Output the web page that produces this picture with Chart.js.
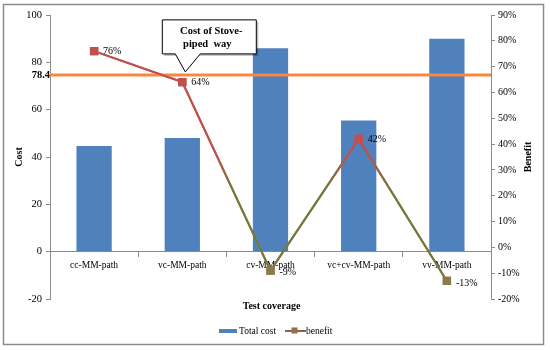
<!DOCTYPE html>
<html>
<head>
<meta charset="utf-8">
<script src="https://cdn.jsdelivr.net/npm/chart.js@4/dist/chart.umd.min.js"></script>
<style>
html, body { margin: 0; padding: 0; background: #fff; }
#wrap { width: 550px; height: 350px; position: relative; }
</style>
</head>
<body>
<div id="wrap"><canvas id="plot" width="550" height="350"></canvas></div>
<script>
const categories = ['cc-MM-path', 'vc-MM-path', 'cv-MM-path', 'vc+cv-MM-path', 'vv-MM-path'];
const totalCost = [44.7, 48.0, 86.0, 55.4, 90.0];
const benefit = [76, 64, -9, 42, -13];
const stovePipedLabel = '78.4';
const stovePipedLevel = 74.7;
const costTicks = [-20, 0, 20, 40, 60, 80, 100];
const benefitTicks = [-20, -10, 0, 10, 20, 30, 40, 50, 60, 70, 80, 90];

const serif = '"Liberation Serif", "Times New Roman", serif';
const red = '#c0504d';
const olive = '#75793c';
const brown = '#8b7b4b';
const blue = '#4f81bd';
const orange = '#f7883f';

function lineGradient(ctx)
{
	const chart = ctx.chart;
	const area = chart.chartArea;
	if (!area) return red;
	const y = chart.scales.y1;
	const top = y.getPixelForValue(35);
	const bottom = y.getPixelForValue(24);
	const g = chart.ctx.createLinearGradient(0, top, 0, bottom);
	g.addColorStop(0, red);
	g.addColorStop(1, olive);
	return g;
}

const decor =
{
	id: 'decor',
	beforeDraw(chart)
	{
		const c = chart.ctx;
		c.save();
		c.strokeStyle = '#8c8c8c';
		c.lineWidth = 1.5;
		c.strokeRect(3.5, 4.5, 540, 340);
		c.restore();
	},
	afterDatasetsDraw(chart)
	{
		const c = chart.ctx;
		const area = chart.chartArea;
		const x = chart.scales.x;
		const y = chart.scales.y;

		// cost of stove-piped way
		const ly = y.getPixelForValue(stovePipedLevel);
		c.save();
		c.strokeStyle = orange;
		c.lineWidth = 3;
		c.beginPath();
		c.moveTo(area.left, ly);
		c.lineTo(area.right, ly);
		c.stroke();
		c.fillStyle = '#000';
		c.font = 'bold 10.5px ' + serif;
		c.textAlign = 'right';
		c.textBaseline = 'middle';
		c.fillText(stovePipedLabel, area.left, ly);
		c.restore();

		// line over the orange one
		const meta = chart.getDatasetMeta(1);
		meta.controller.draw();

		// labels of benefit
		c.save();
		c.font = '10px ' + serif;
		c.fillStyle = '#000';
		c.textBaseline = 'middle';
		c.textAlign = 'left';
		meta.data.forEach(function(p, i)
		{
			c.fillText(benefit[i] + '%', p.x + 9, p.y + (benefit[i] < 0 ? 2 : 0));
		});
		c.restore();

		// callout
		const tx = x.getPixelForValue(1) + 3;
		const ty = ly - 3;
		const bx = tx - 23, bw = 94, by = ty - 52, bh = 34;
		c.save();
		c.fillStyle = 'rgba(0,0,0,0.25)';
		c.fillRect(bx + 2, by + 2, bw, bh);
		c.beginPath();
		c.moveTo(bx, by);
		c.lineTo(bx + bw, by);
		c.lineTo(bx + bw, by + bh);
		c.lineTo(tx + 15, by + bh);
		c.lineTo(tx, ty);
		c.lineTo(tx - 10, by + bh);
		c.lineTo(bx, by + bh);
		c.closePath();
		c.fillStyle = '#fff';
		c.fill();
		c.strokeStyle = '#000';
		c.lineWidth = 1;
		c.stroke();
		c.fillStyle = '#000';
		c.font = 'bold 10.5px ' + serif;
		c.textAlign = 'center';
		c.textBaseline = 'middle';
		c.fillText('Cost of Stove-', bx + bw / 2 + 2, by + 11);
		c.fillText('piped  way', bx + bw / 2 - 2, by + 24);
		c.restore();

		// axis titles
		c.save();
		c.fillStyle = '#000';
		c.font = 'bold 10px ' + serif;
		c.textAlign = 'center';
		c.textBaseline = 'middle';
		c.fillText('Test coverage', (area.left + area.right) / 2 + 1, 306);
		c.translate(19, 157);
		c.rotate(-Math.PI / 2);
		c.fillText('Cost', 0, 0);
		c.restore();
		c.save();
		c.fillStyle = '#000';
		c.font = 'bold 10px ' + serif;
		c.textAlign = 'center';
		c.textBaseline = 'middle';
		c.translate(528, 157);
		c.rotate(-Math.PI / 2);
		c.fillText('Benefit', 0, 0);
		c.restore();

		// legend
		c.save();
		c.fillStyle = blue;
		c.fillRect(219, 329, 18, 4);
		c.strokeStyle = '#9a5a48';
		c.lineWidth = 2;
		c.beginPath();
		c.moveTo(285, 331);
		c.lineTo(306, 331);
		c.stroke();
		c.fillStyle = '#94704c';
		c.fillRect(291.5, 327.5, 6, 6);
		c.fillStyle = '#000';
		c.font = '9.5px ' + serif;
		c.textBaseline = 'middle';
		c.fillText('Total cost', 239, 331);
		c.fillText('benefit', 306, 331);
		c.restore();
	}
};

new Chart(document.getElementById('plot'),
{
	data:
	{
		labels: categories,
		datasets:
		[
			{
				type: 'bar',
				label: 'Total cost',
				data: totalCost,
				backgroundColor: blue,
				barPercentage: 0.4,
				categoryPercentage: 1,
				yAxisID: 'y',
				order: 2
			},
			{
				type: 'line',
				label: 'benefit',
				data: benefit,
				borderColor: lineGradient,
				borderWidth: 2,
				pointStyle: 'rect',
				pointRadius: 4.5,
				pointBackgroundColor: benefit.map(v => v < 0 ? brown : red),
				pointBorderColor: benefit.map(v => v < 0 ? brown : red),
				tension: 0,
				yAxisID: 'y1',
				order: 1
			}
		]
	},
	options:
	{
		responsive: false,
		animation: false,
		devicePixelRatio: 1,
		layout: { padding: { top: 15, bottom: 51, left: 0, right: 0 } },
		plugins:
		{
			legend: { display: false },
			tooltip: { enabled: false }
		},
		scales:
		{
			x:
			{
				position: { y: 0 },
				grid: { display: true, drawOnChartArea: false, offset: true, tickLength: 5, color: '#8c8c8c' },
				border: { color: '#8c8c8c' },
				ticks: { font: { family: serif, size: 9.5 }, color: '#000', padding: 3, maxRotation: 0, autoSkip: false }
			},
			y:
			{
				position: 'left',
				min: -20,
				max: 100,
				afterBuildTicks: function(s) { s.ticks = costTicks.map(v => ({ value: v })); },
				afterFit: function(s) { s.width = 50; },
				grid: { display: true, drawOnChartArea: false, tickLength: 4, color: '#8c8c8c' },
				border: { color: '#8c8c8c' },
				ticks: { color: '#000', padding: 4, font: { family: serif, size: 10.5 } }
			},
			y1:
			{
				position: 'right',
				min: -20,
				max: 90,
				afterBuildTicks: function(s) { s.ticks = benefitTicks.map(v => ({ value: v })); },
				afterFit: function(s) { s.width = 59; },
				grid: { display: true, drawOnChartArea: false, tickLength: 4, color: '#8c8c8c' },
				border: { color: '#8c8c8c' },
				ticks: { color: '#000', padding: 3, font: { family: serif, size: 10 }, callback: v => v + '%' }
			}
		}
	},
	plugins: [decor]
});
</script>
</body>
</html>
